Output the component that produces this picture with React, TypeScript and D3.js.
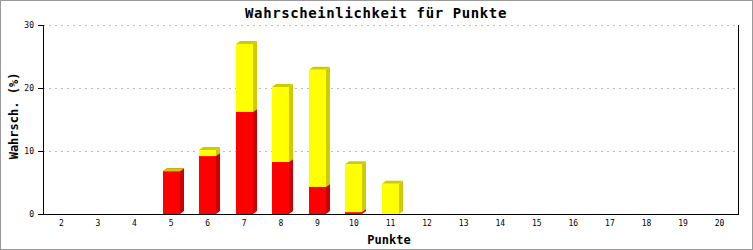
import React from "react";
import * as d3 from "d3";

const categories = ["2","3","4","5","6","7","8","9","10","11","12","13","14","15","16","17","18","19","20"];
const redValues = [0,0,0,6.8,9.2,16.2,8.25,4.3,0.3,0,0,0,0,0,0,0,0,0,0];
const yellowValues = [0,0,0,0,0.95,10.8,11.9,18.6,7.6,4.8,0,0,0,0,0,0,0,0,0];
const yTicks = [0,10,20,30];
const title = "Wahrscheinlichkeit für Punkte";
const yLabel = "Wahrsch. (%)";
const xLabel = "Punkte";

const W = 753, H = 250;
const left = 43, right = 738, top = 25, bottom = 214;
const mono = "'DejaVu Sans Mono', 'Liberation Mono', monospace";

export default function App() {
  const x = d3.scaleBand().domain(categories).range([left, right]).paddingInner(0.535).paddingOuter(0.27);
  const y = d3.scaleLinear().domain([0, 30]).range([bottom, top]);
  const bw = 17;
  const dx = 4, dy = 3;

  const seg = (x0: number, y0: number, y1: number, front: string, side: string, key: string, cap?: string) => {
    const x1 = x0 + bw;
    const sidePts = [[x1, y1], [x1 + dx, y1 - dy], [x1 + dx, y0 - dy], [x1, y0]];
    const capPts = [[x0, y1], [x0 + dx, y1 - dy], [x1 + dx, y1 - dy], [x1, y1]];
    return (
      <g key={key}>
        <polygon points={sidePts.map(p => p.join(",")).join(" ")} fill={side} />
        {cap && <polygon points={capPts.map(p => p.join(",")).join(" ")} fill={cap} />}
        <rect x={x0} y={y1} width={bw} height={Math.max(0, y0 - y1)} fill={front} />
      </g>
    );
  };

  return (
    <svg width={W} height={H} style={{ position: "absolute", left: 0, top: 0 }} fontFamily={mono}>
      <rect x={0.5} y={0.5} width={W - 1} height={H - 1} fill="#fff" stroke="#999" />
      <text x={376} y={18} textAnchor="middle" fontSize={14} fontWeight="bold" letterSpacing={0.6}>{title}</text>
      {yTicks.filter(t => t > 0).map(t => (
        <line key={"g" + t} x1={left} x2={right} y1={y(t) + 0.5} y2={y(t) + 0.5} stroke="#bbb" strokeDasharray="2,4" />
      ))}
      {categories.map((c, i) => {
        const cx = (x(c) as number) + x.bandwidth() / 2;
        const x0 = Math.round(cx - bw / 2);
        const r = redValues[i], yv = yellowValues[i];
        if (r + yv <= 0) return null;
        const yb = y(0), yr = y(r), yt = y(r + yv);
        return (
          <g key={c}>
            {r > 0 && seg(x0, yb, yr, "#ff0000", "#cc0000", "r", "#cc0000")}
            {seg(x0, yr, yt, "#ffff00", "#cccc00", "y", "#cccc00")}
          </g>
        );
      })}
      <line x1={left + 0.5} x2={left + 0.5} y1={top} y2={bottom} stroke="#000" />
      <line x1={right + 0.5} x2={right + 0.5} y1={top} y2={bottom} stroke="#000" />
      <line x1={left} x2={right + 1} y1={bottom + 0.5} y2={bottom + 0.5} stroke="#000" />
      {yTicks.map(t => (
        <g key={"t" + t}>
          <line x1={left - 5} x2={left} y1={y(t) + 0.5} y2={y(t) + 0.5} stroke="#000" />
          <text x={34} y={y(t) + 3} textAnchor="end" fontSize={8}>{t}</text>
        </g>
      ))}
      {categories.map(c => (
        <text key={"x" + c} x={(x(c) as number) + x.bandwidth() / 2} y={226} textAnchor="middle" fontSize={8}>{c}</text>
      ))}
      <text x={389} y={244} textAnchor="middle" fontSize={12} fontWeight="bold">{xLabel}</text>
      <text transform={`translate(18,116) rotate(-90)`} textAnchor="middle" fontSize={12} fontWeight="bold">{yLabel}</text>
    </svg>
  );
}
